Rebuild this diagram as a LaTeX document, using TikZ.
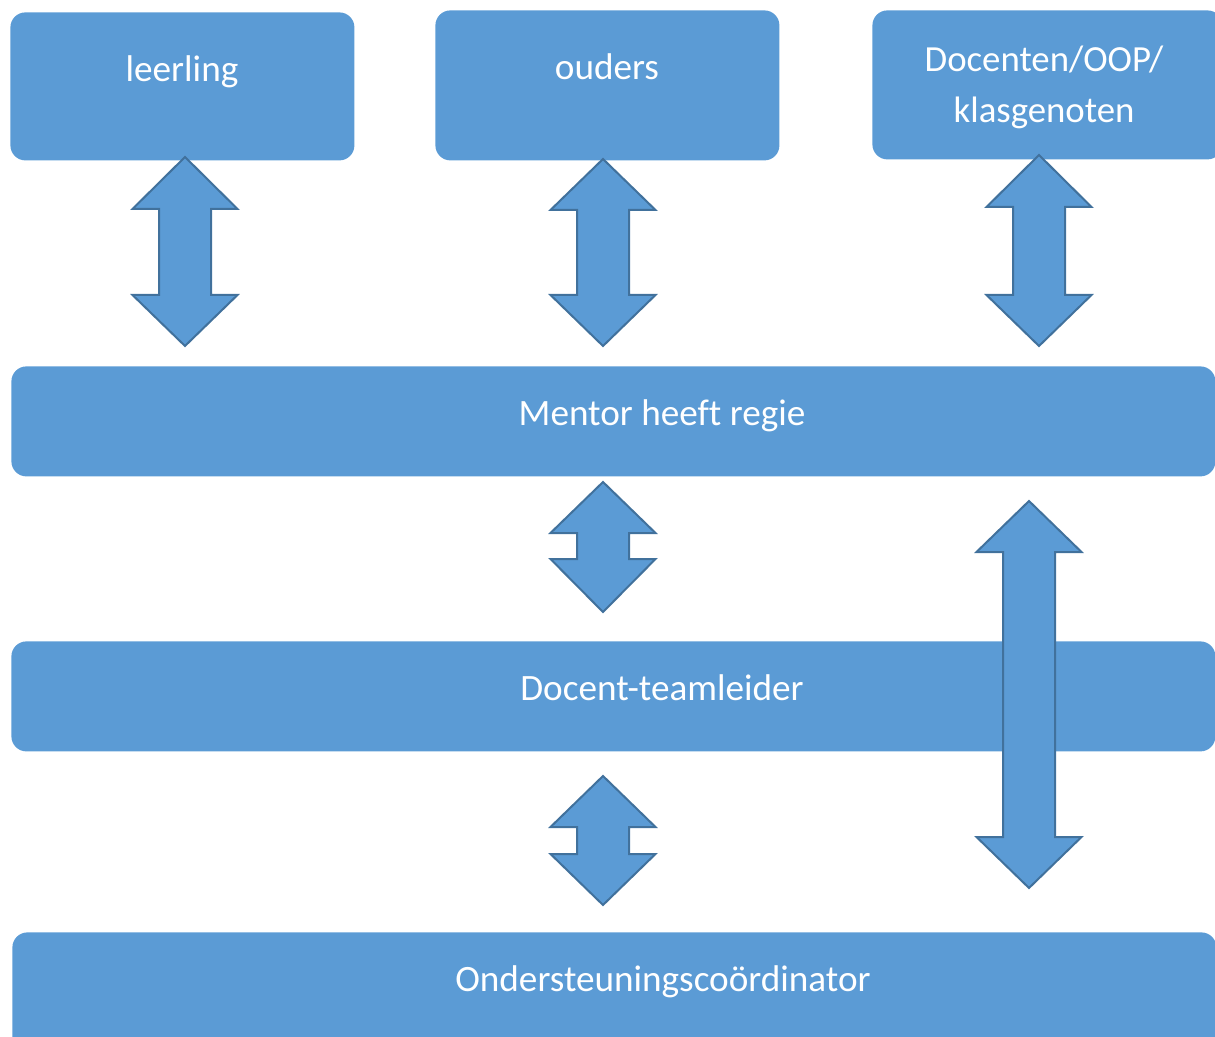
\documentclass[tikz,border=0pt]{standalone}
\usepackage{fontspec}
\setmainfont{Carlito}[Ligatures={NoCommon}]
\definecolor{boxblue}{HTML}{5B9BD5}
\definecolor{arrowedge}{HTML}{41719C}
\newcommand\vdarrow[5]{%
  \draw[dblarrow] (#1,#2) -- (#1+52.5,#3) -- (#1+26,#3) -- (#1+26,#4) -- (#1+52.5,#4)
    -- (#1,#5) -- (#1-52.5,#4) -- (#1-26,#4) -- (#1-26,#3) -- (#1-52.5,#3) -- cycle;}
\begin{document}
\begin{tikzpicture}[x=0.5pt,y=-0.5pt,
  box/.style={fill=boxblue, draw=none, rounded corners=7.5pt, inner sep=0pt, anchor=north west},
  lbl/.style={text=white, anchor=base, inner sep=0pt, font=\fontsize{18.6}{22}\selectfont},
  lblsmall/.style={text=white, anchor=base, inner sep=0pt, font=\fontsize{18.4}{22}\selectfont},
  dblarrow/.style={fill=boxblue, draw=arrowedge, line width=1pt, line join=miter}]
\useasboundingbox (0,0) rectangle (1215,1037);
% boxes
\node[box, minimum width=172pt, minimum height=74pt] (leer) at (10,12) {};
\node[box, minimum width=172pt, minimum height=75pt] (oud) at (435,10) {};
\node[box, minimum width=175pt, minimum height=74.5pt] (doc) at (872,10) {};
\node[box, minimum width=602pt, minimum height=55pt] (ment) at (11,366) {};
\node[box, minimum width=602pt, minimum height=55pt] (team) at (11,641) {};
\node[box, minimum width=602pt, minimum height=60pt] (ond) at (12,932) {};
% texts
\node[lbl] (leert) at (182,82) {leerling};
\node[lbl] (oudt) at (607,80) {ouders};
\node[lblsmall] (doct1) at (1044,72) {Docenten/OOP/};
\node[lblsmall] (doct2) at (1044,123) {klasgenoten};
\node[lbl] (mentt) at (662,425) {Mentor heeft regie};
\node[lbl] (teamt) at (662,700) {Docent-teamleider};
\node[lbl] (ondt) at (663,991) {Ondersteuningscoördinator};
% double arrows
\vdarrow{185}{157}{209}{295}{346}
\vdarrow{603}{159}{210}{295}{346}
\vdarrow{1039}{155}{207}{295}{346}
\vdarrow{603}{482}{533}{559}{612}
\vdarrow{603}{776}{827}{854}{905}
\vdarrow{1029}{501}{552}{837}{888}
\end{tikzpicture}
\end{document}
